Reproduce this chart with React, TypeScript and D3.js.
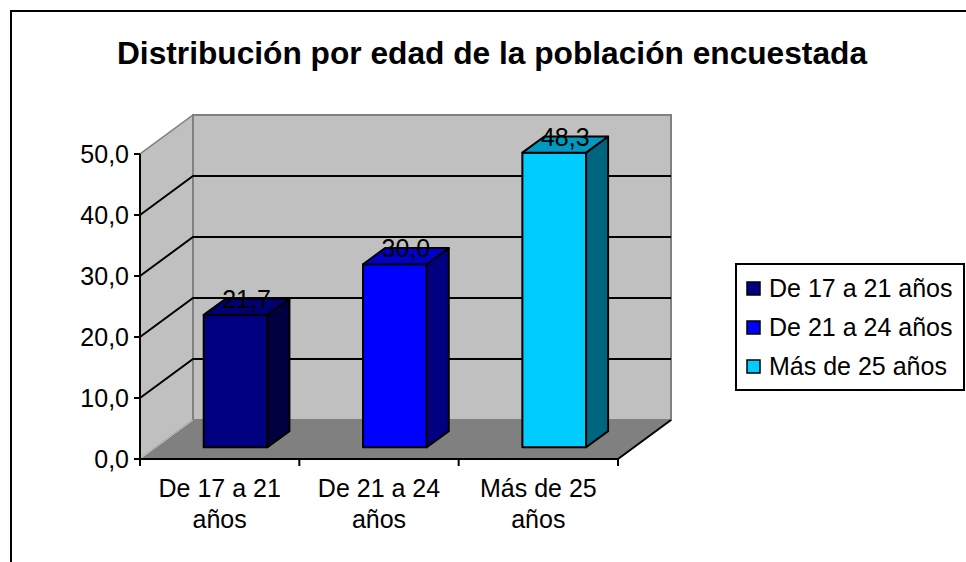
import React from "react";
import * as d3 from "d3";

const categories = ["De 17 a 21 años", "De 21 a 24 años", "Más de 25 años"];
const categoryLines = [["De 17 a 21", "años"], ["De 21 a 24", "años"], ["Más de 25", "años"]];
const values = [21.7, 30.0, 48.3];
const yTicks = [0, 10, 20, 30, 40, 50];
const frontColors = ["#000080", "#0000FF", "#00CCFF"];
const sideColors = ["#000040", "#000080", "#006680"];
const topColors = ["#000070", "#0000C8", "#0099BF"];
const title = "Distribución por edad de la población encuestada";

const W = 966;
const H = 562;
const DX = 53;
const DY = -39;
const FONT = "'Liberation Sans', Arial, sans-serif";

export default function App() {
  const y = d3.scaleLinear().domain([0, 50]).range([459, 154]);
  const x = d3.scaleBand<string>().domain(categories).range([140, 618]).paddingInner(0.6).paddingOuter(0.3);
  const xOuter = d3.scaleBand<string>().domain(categories).range([140, 618]);
  const P = (px: number, v: number, d: number): [number, number] => [px + d * DX, y(v) + d * DY];
  const pts = (arr: [number, number][]) => arr.map((p) => p.join(",")).join(" ");
  const x0 = 140, x1 = 618;
  const d0 = 0.3, d1 = 0.715;
  const fmt = (v: number) => v.toFixed(1).replace(".", ",");

  return (
    <svg width={W} height={H} style={{ position: "absolute", left: 0, top: 0, background: "#fff" }} fontFamily={FONT}>
      <rect x={0} y={0} width={W} height={H} fill="#fff" />
      <line x1={10} y1={11} x2={W} y2={11} stroke="#000" strokeWidth={2} />
      <line x1={11} y1={10} x2={11} y2={H} stroke="#000" strokeWidth={2} />
      <text x={492} y={64} textAnchor="middle" fontWeight="bold" fontSize={31.7}>{title}</text>

      {/* side wall */}
      <polygon points={pts([P(x0, 0, 0), P(x0, 50, 0), P(x0, 50, 1), P(x0, 0, 1)])} fill="#C0C0C0" stroke="#808080" strokeWidth={1.5} />
      {/* back wall */}
      <polygon points={pts([P(x0, 0, 1), P(x0, 50, 1), P(x1, 50, 1), P(x1, 0, 1)])} fill="#C0C0C0" stroke="#808080" strokeWidth={2} />
      {/* floor */}
      <polygon points={pts([P(x0, 0, 0), P(x1, 0, 0), P(x1, 0, 1), P(x0, 0, 1)])} fill="#808080" />
      <line x1={P(x0, 0, 0)[0]} y1={P(x0, 0, 0)[1]} x2={P(x0, 0, 1)[0]} y2={P(x0, 0, 1)[1]} stroke="#C8C8C8" strokeWidth={1} />
      <line x1={P(x1, 0, 0)[0]} y1={P(x1, 0, 0)[1]} x2={P(x1, 0, 1)[0]} y2={P(x1, 0, 1)[1]} stroke="#000" strokeWidth={2} />

      {/* gridlines */}
      {yTicks.filter((t) => t > 0 && t < 50).map((t) => {
        const a = P(x0, t, 0), b = P(x0, t, 1), c = P(x1, t, 1);
        return (
          <g key={t}>
            <polyline points={pts([a, b, c])} fill="none" stroke="#000" strokeWidth={2} />
          </g>
        );
      })}

      {/* axes */}
      <line x1={x0} y1={y(0)} x2={x0} y2={y(50)} stroke="#000" strokeWidth={2} />
      <line x1={x0} y1={y(0)} x2={x1} y2={y(0)} stroke="#000" strokeWidth={2} />
      {yTicks.map((t) => (
        <g key={t}>
          <line x1={x0 - 6} y1={y(t)} x2={x0} y2={y(t)} stroke="#000" strokeWidth={2} />
          <text x={129} y={y(t) + 9} textAnchor="end" fontSize={25}>{fmt(t)}</text>
        </g>
      ))}
      {[...categories.map((c) => xOuter(c) as number), x1].map((tx, i) => (
        <line key={i} x1={tx} y1={y(0)} x2={tx} y2={y(0) + 7} stroke="#000" strokeWidth={2} />
      ))}
      {categories.map((c, i) => {
        const cx = (xOuter(c) as number) + xOuter.bandwidth() / 2;
        return (
          <text key={c} textAnchor="middle" fontSize={25}>
            <tspan x={cx} y={497}>{categoryLines[i][0]}</tspan>
            <tspan x={cx} y={528}>{categoryLines[i][1]}</tspan>
          </text>
        );
      })}

      {/* bars */}
      {categories.map((c, i) => {
        const bx = x(c) as number;
        const bw = x.bandwidth();
        const v = values[i];
        const front = [P(bx, 0, d0), P(bx + bw, 0, d0), P(bx + bw, v, d0), P(bx, v, d0)] as [number, number][];
        const side = [P(bx + bw, 0, d0), P(bx + bw, 0, d1), P(bx + bw, v, d1), P(bx + bw, v, d0)] as [number, number][];
        const top = [P(bx, v, d0), P(bx + bw, v, d0), P(bx + bw, v, d1), P(bx, v, d1)] as [number, number][];
        const tc = P(bx + bw / 2, v, (d0 + d1) / 2);
        return (
          <g key={c} stroke="#000" strokeWidth={2} strokeLinejoin="round">
            <polygon points={pts(front)} fill={frontColors[i]} />
            <polygon points={pts(side)} fill={sideColors[i]} />
            <polygon points={pts(top)} fill={topColors[i]} />
            <text x={tc[0]} y={tc[1] + 1} textAnchor="middle" fontSize={25} stroke="none" fill="#000">{fmt(v)}</text>
          </g>
        );
      })}

      {/* legend */}
      <rect x={736} y={264} width={228} height={126} fill="#fff" stroke="#000" strokeWidth={2} />
      {categories.map((c, i) => {
        const cy = 289 + i * 39;
        return (
          <g key={c}>
            <rect x={747} y={cy - 7} width={13} height={13} fill={frontColors[i]} stroke="#000" strokeWidth={1.5} />
            <text x={769} y={cy + 8} fontSize={25}>{c}</text>
          </g>
        );
      })}
    </svg>
  );
}
